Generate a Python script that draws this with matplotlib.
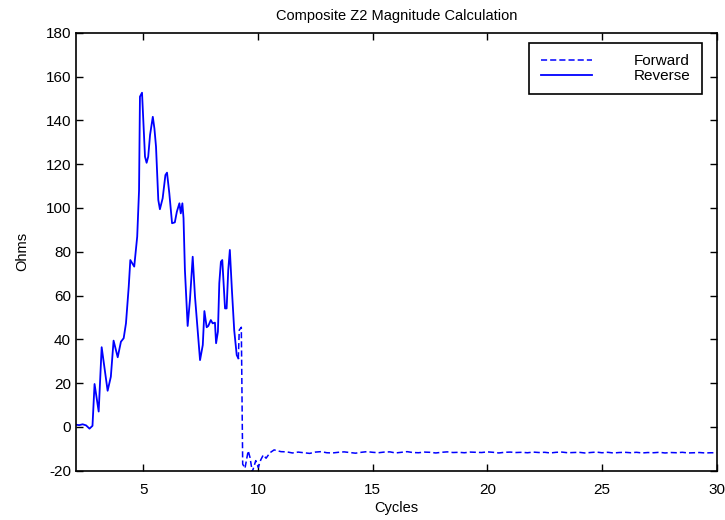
import numpy as np
import matplotlib.pyplot as plt

plt.rcParams['font.family'] = ['Liberation Sans', 'DejaVu Sans']
plt.rcParams['axes.unicode_minus'] = False

###Donnees###
rev_x = [2.06, 2.2, 2.35, 2.5, 2.65, 2.78, 2.87, 3.05, 3.18, 3.44, 3.58, 3.70, 3.88,
         4.02, 4.14, 4.24, 4.36, 4.43, 4.60, 4.73, 4.81, 4.85, 4.94, 5.07, 5.14,
         5.21, 5.29, 5.41, 5.48, 5.55, 5.65, 5.72, 5.84, 5.96, 6.03, 6.13, 6.25,
         6.37, 6.46, 6.57, 6.63, 6.70, 6.75, 6.81, 6.93, 7.03, 7.15, 7.25, 7.47,
         7.59, 7.66, 7.76, 7.83, 7.94, 8.02, 8.12, 8.17, 8.25, 8.31, 8.38, 8.44,
         8.56, 8.63, 8.70, 8.77, 8.86, 8.96, 9.07, 9.14]
rev_y = [1.0, 0.8, 1.2, 0.7, -0.8, 0.5, 19.6, 7.0, 36.4, 16.5, 22.9, 39.4, 31.8,
         38.9, 40.5, 47.3, 64.0, 76.2, 73.2, 86.9, 108.0, 150.8, 152.6, 123.4, 120.6,
         123.4, 133.3, 141.6, 136.3, 128.0, 103.6, 99.4, 104.4, 115.0, 116.1, 106.7, 93.0,
         93.4, 98.3, 102.1, 97.5, 102.1, 95.3, 71.7, 46.1, 58.0, 77.7, 59.5, 30.5,
         37.4, 52.9, 45.5, 46.1, 48.8, 47.3, 47.6, 38.2, 43.5, 65.6, 75.4, 76.2,
         54.1, 54.1, 71.6, 80.8, 62.5, 44.2, 32.8, 31.3]

fwd_x = [9.14, 9.18, 9.27, 9.33, 9.43, 9.57, 9.65, 9.75, 9.90, 10.01, 10.12, 10.23,
         10.35, 10.52, 10.70, 11.0, 11.25, 11.5, 11.75, 12.0, 12.25, 12.5, 12.75,
         13.0, 13.25, 13.5, 13.75, 14.0, 14.25, 14.5, 14.75, 15.0, 15.25, 15.5,
         15.75, 16.0, 16.25, 16.5, 16.75, 17.0, 17.25, 17.5, 17.75, 18.0, 18.25,
         18.5, 18.75, 19.0, 19.25, 19.5, 19.75, 20.0, 20.25, 20.5, 20.75, 21.0,
         21.25, 21.5, 21.75, 22.0, 22.25, 22.5, 22.75, 23.0, 23.25, 23.5, 23.75,
         24.0, 24.25, 24.5, 24.75, 25.0, 25.25, 25.5, 25.75, 26.0, 26.25, 26.5,
         26.75, 27.0, 27.25, 27.5, 27.75, 28.0, 28.25, 28.5, 28.75, 29.0, 29.25,
         29.5, 29.75, 30.0]
fwd_y = [31.3, 44.2, 45.5, -17.0, -18.9, -10.9, -14.0, -20.5, -15.4, -18.5, -15.0, -12.8,
         -14.3, -11.8, -10.5, -11.3, -11.4, -11.9, -11.5, -11.8, -12.1, -11.5, -11.3,
         -11.8, -11.9, -11.6, -11.4, -11.7, -12.0, -11.6, -11.3, -11.6, -11.8, -11.5,
         -11.4, -11.9, -11.6, -11.3, -11.7, -11.8, -11.5, -11.6, -11.9, -11.6, -11.4,
         -11.7, -11.6, -11.8, -11.5, -11.6, -11.7, -11.4, -11.6, -11.9, -11.6, -11.5,
         -11.7, -11.6, -11.8, -11.5, -11.7, -11.6, -11.9, -11.6, -11.5, -11.8, -11.7,
         -11.6, -11.9, -11.7, -11.5, -11.8, -11.6, -11.9, -11.7, -11.6, -11.8, -11.6,
         -11.9, -11.7, -11.8, -11.6, -11.9, -11.7, -11.8, -11.6, -11.9, -11.8, -11.7,
         -11.9, -11.8, -11.8]
#############

fig = plt.figure(figsize=(7.25, 5.2), dpi=100)
ax = fig.add_axes([0.1048, 0.0948, 0.8837, 0.8423])

ax.plot(fwd_x, fwd_y, color='#0000ff', linestyle='--', linewidth=1.1, label='Forward',
        dashes=(4, 2))
ax.plot(rev_x, rev_y, color='#0000ff', linestyle='-', linewidth=1.3, label='Reverse')

ax.set_xlim(2.06, 30)
ax.set_ylim(-20, 180)
ax.set_xticks([5, 10, 15, 20, 25, 30])
ax.set_yticks(np.arange(-20, 181, 20))
ax.tick_params(direction='in', top=True, right=True, labelsize=11, length=5, width=1)
ax.tick_params(axis='x', pad=9)
for s in ax.spines.values():
    s.set_linewidth(1.2)

ax.set_title('Composite Z2 Magnitude Calculation', fontsize=10.5, pad=9)
ax.set_xlabel('Cycles', fontsize=10.5, labelpad=3)
ax.set_ylabel('Ohms', fontsize=10.5, labelpad=12)

leg = ax.legend(loc='upper right', fontsize=11, handlelength=3.4, handletextpad=2.7,
                bbox_to_anchor=(0.977, 0.977), borderaxespad=0.0,
                fancybox=False, framealpha=1, edgecolor='black',
                labelspacing=0.05, borderpad=0.75, markerfirst=True)
leg.get_frame().set_linewidth(1.2)
for t in leg.get_texts():
    t.set_ha('right')

fig.savefig('out.png', dpi=100)
